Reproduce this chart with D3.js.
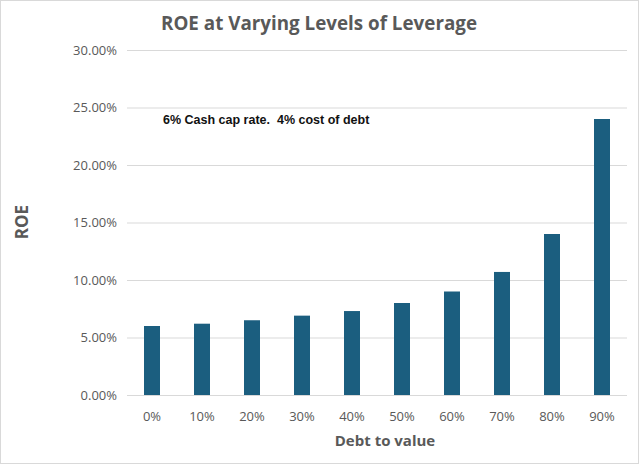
<!DOCTYPE html>
<html>
<head>
<meta charset="utf-8">
<script src="https://cdn.jsdelivr.net/npm/d3@7"></script>
<style>
  body { margin: 0; background: #fff; }
  text { font-family: 'Open Sans', sans-serif; }
</style>
</head>
<body>
<div id="chart"></div>
<script>
const debtLevels = ['0%', '10%', '20%', '30%', '40%', '50%', '60%', '70%', '80%', '90%']
const roeValues = [0.06, 0.062, 0.065, 0.069, 0.073, 0.08, 0.09, 0.107, 0.14, 0.24]
const yTicks = [0, 0.05, 0.1, 0.15, 0.2, 0.25, 0.3]

const margin = { top: 50, left: 127, right: 13, bottom: 70 }
const width = 640 - margin.left - margin.right
const height = 465 - margin.top - margin.bottom

const root = d3
  .select('#chart')
  .append('svg')
  .attr('width', 640)
  .attr('height', 465)

root
  .append('rect')
  .attr('x', 0.5)
  .attr('y', 0.5)
  .attr('width', 638)
  .attr('height', 463)
  .attr('fill', '#fff')
  .attr('stroke', '#d9d9d9')

const svg = root
  .append('g')
  .attr('transform', 'translate(' + margin.left + ',' + margin.top + ')')

const xScale = d3
  .scaleBand()
  .domain(debtLevels)
  .range([0, width])
  .paddingInner(0.68)
  .paddingOuter(0.34)

const yScale = d3
  .scaleLinear()
  .domain([0, 0.3])
  .range([height, 0])

// gridlines + y labels
const yAxis = d3
  .axisLeft(yScale)
  .tickValues(yTicks)
  .tickFormat(d3.format('.2%'))
  .tickSize(-width)
  .tickPadding(10)

svg
  .append('g')
  .attr('class', 'y-axis')
  .call(yAxis)
  .call(g => g.select('.domain').remove())
  .call(g => g.selectAll('line').attr('stroke', '#d9d9d9'))
  .call(g =>
    g
      .selectAll('text')
      .attr('fill', '#595959')
      .attr('font-size', 13)
  )

const xAxis = d3.axisBottom(xScale).tickSize(0).tickPadding(17)

svg
  .append('g')
  .attr('transform', 'translate(0,' + height + ')')
  .call(xAxis)
  .call(g => g.select('.domain').remove())
  .call(g =>
    g
      .selectAll('text')
      .attr('fill', '#595959')
      .attr('font-size', 13)
  )

svg
  .selectAll('.bar')
  .data(roeValues)
  .enter()
  .append('rect')
  .attr('class', 'bar')
  .attr('x', (d, i) => xScale(debtLevels[i]))
  .attr('y', d => yScale(d))
  .attr('width', xScale.bandwidth())
  .attr('height', d => height - yScale(d))
  .attr('fill', '#1b5e7f')

// titles
root
  .append('text')
  .attr('x', 319)
  .attr('y', 30)
  .attr('text-anchor', 'middle')
  .attr('font-size', 20)
  .attr('font-weight', 700)
  .attr('fill', '#595959')
  .attr('textLength', 316)
  .attr('lengthAdjust', 'spacingAndGlyphs')
  .text('ROE at Varying Levels of Leverage')

root
  .append('text')
  .attr('transform', 'translate(28,' + 222 + ') rotate(-90)')
  .attr('text-anchor', 'middle')
  .attr('font-size', 17)
  .attr('font-weight', 700)
  .attr('fill', '#595959')
  .text('ROE')

root
  .append('text')
  .attr('x', 385)
  .attr('y', 446)
  .attr('text-anchor', 'middle')
  .attr('font-size', 15)
  .attr('font-weight', 700)
  .attr('fill', '#595959')
  .text('Debt to value')

root
  .append('text')
  .attr('x', 163)
  .attr('y', 124)
  .style('font-family', "'Liberation Sans', Arial, sans-serif")
  .attr('font-size', 12.5)
  .attr('font-weight', 700)
  .attr('fill', '#111')
  .attr('xml:space', 'preserve')
  .style('white-space', 'pre')
  .text('6% Cash cap rate.  4% cost of debt')
</script>
</body>
</html>
